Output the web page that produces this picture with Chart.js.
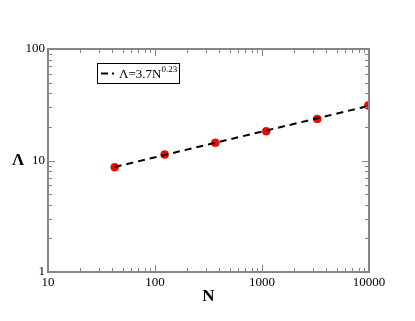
<!DOCTYPE html>
<html>
<head>
<meta charset="utf-8">
<script src="https://cdn.jsdelivr.net/npm/chart.js@4/dist/chart.umd.min.js"></script>
<style>
  body { margin: 0; background: #fff; }
  #wrap { width: 415px; height: 321px; }
</style>
</head>
<body>
<div id="wrap"><canvas id="c" width="415" height="321"></canvas></div>
<script>
// measured points
const sizeN = [42, 123, 366, 1095, 3282, 9843];
const lambda = [8.7, 11.3, 14.4, 18.3, 23.6, 31.2];
// fitted power law, end points
const fitN = [42, 9843];
const fitLambda = [8.75, 30.8];
const xTicks = [10, 100, 1000, 10000];
const yTicks = [1, 10, 100];

const serif = '"Liberation Serif", "DejaVu Serif", serif';
const axisGrey = '#858585';

// inward minor/major ticks, frame, titles and legend box
const decor = {
  id: 'decor',
  afterDraw(chart) {
    const ctx = chart.ctx;
    const a = chart.chartArea;
    const xs = chart.scales.x, ys = chart.scales.y;
    ctx.save();
    ctx.strokeStyle = axisGrey;
    ctx.lineWidth = 1;
    ctx.beginPath();
    for (let d = 10; d < 10000; d *= 10) {
      for (let m = 1; m <= 9; m++) {
        const px = Math.round(xs.getPixelForValue(d * m)) + 0.5;
        const len = m === 1 ? 7 : 4;
        ctx.moveTo(px, a.bottom); ctx.lineTo(px, a.bottom - len);
        ctx.moveTo(px, a.top); ctx.lineTo(px, a.top + len);
      }
    }
    for (let d = 1; d < 100; d *= 10) {
      for (let m = 1; m <= 9; m++) {
        const py = Math.round(ys.getPixelForValue(d * m)) + 0.5;
        const len = m === 1 ? 7 : 4;
        ctx.moveTo(a.left, py); ctx.lineTo(a.left + len, py);
        ctx.moveTo(a.right, py); ctx.lineTo(a.right - len, py);
      }
    }
    ctx.stroke();
    ctx.lineWidth = 2;
    ctx.strokeRect(a.left, a.top, a.right - a.left, a.bottom - a.top);

    // axis titles
    ctx.fillStyle = '#000';
    ctx.textAlign = 'center';
    ctx.textBaseline = 'middle';
    ctx.font = 'bold 17px ' + serif;
    ctx.fillText('N', (a.left + a.right) / 2, 297);
    ctx.fillText('\u039B', 18, (a.top + a.bottom) / 2);

    // legend
    const lx = 97, ly = 63, lw = 82, lh = 20;
    ctx.lineWidth = 1;
    ctx.strokeStyle = '#000';
    ctx.fillStyle = '#fff';
    ctx.fillRect(lx, ly, lw, lh);
    ctx.strokeRect(lx + 0.5, ly + 0.5, lw, lh);
    ctx.lineWidth = 2;
    ctx.beginPath();
    ctx.moveTo(lx + 4, ly + 10.5); ctx.lineTo(lx + 11, ly + 10.5);
    ctx.moveTo(lx + 15, ly + 10.5); ctx.lineTo(lx + 17, ly + 10.5);
    ctx.stroke();
    ctx.fillStyle = '#000';
    ctx.textAlign = 'left';
    ctx.textBaseline = 'alphabetic';
    ctx.font = '13px ' + serif;
    const base = '\u039B=3.7N';
    ctx.fillText(base, lx + 22, ly + 15);
    const w = ctx.measureText(base).width;
    ctx.font = '9px ' + serif;
    ctx.fillText('0.23', lx + 22 + w, ly + 9);
    ctx.restore();
  }
};

new Chart(document.getElementById('c'), {
  type: 'scatter',
  data: {
    datasets: [
      {
        label: 'fit',
        data: fitN.map((n, i) => ({ x: n, y: fitLambda[i] })),
        showLine: true,
        borderColor: '#000',
        borderWidth: 2,
        borderDash: [7, 5],
        pointRadius: 0,
        fill: false
      },
      {
        label: 'data',
        data: sizeN.map((n, i) => ({ x: n, y: lambda[i] })),
        backgroundColor: '#ff0000',
        borderColor: '#c00000',
        borderWidth: 0.5,
        pointRadius: 4
      }
    ]
  },
  options: {
    responsive: false,
    animation: false,
    layout: { padding: { left: 0, top: 49, right: 46, bottom: 0 } },
    plugins: { legend: { display: false }, tooltip: { enabled: false } },
    scales: {
      x: {
        type: 'logarithmic',
        min: 10, max: 10000,
        grid: { display: false, drawTicks: false },
        border: { display: false },
        afterBuildTicks: s => { s.ticks = xTicks.map(v => ({ value: v })); },
        afterFit: s => { s.height = 49; },
        ticks: {
          padding: 3,
          maxRotation: 0,
          autoSkip: false,
          color: '#000',
          font: { family: serif, size: 13 },
          callback: v => String(v)
        }
      },
      y: {
        type: 'logarithmic',
        min: 1, max: 100,
        grid: { display: false, drawTicks: false },
        border: { display: false },
        afterBuildTicks: s => { s.ticks = yTicks.map(v => ({ value: v })); },
        afterFit: s => { s.width = 48; },
        ticks: {
          padding: 3,
          autoSkip: false,
          color: '#000',
          font: { family: serif, size: 13 },
          callback: v => String(v)
        }
      }
    }
  },
  plugins: [decor]
});
</script>
</body>
</html>
